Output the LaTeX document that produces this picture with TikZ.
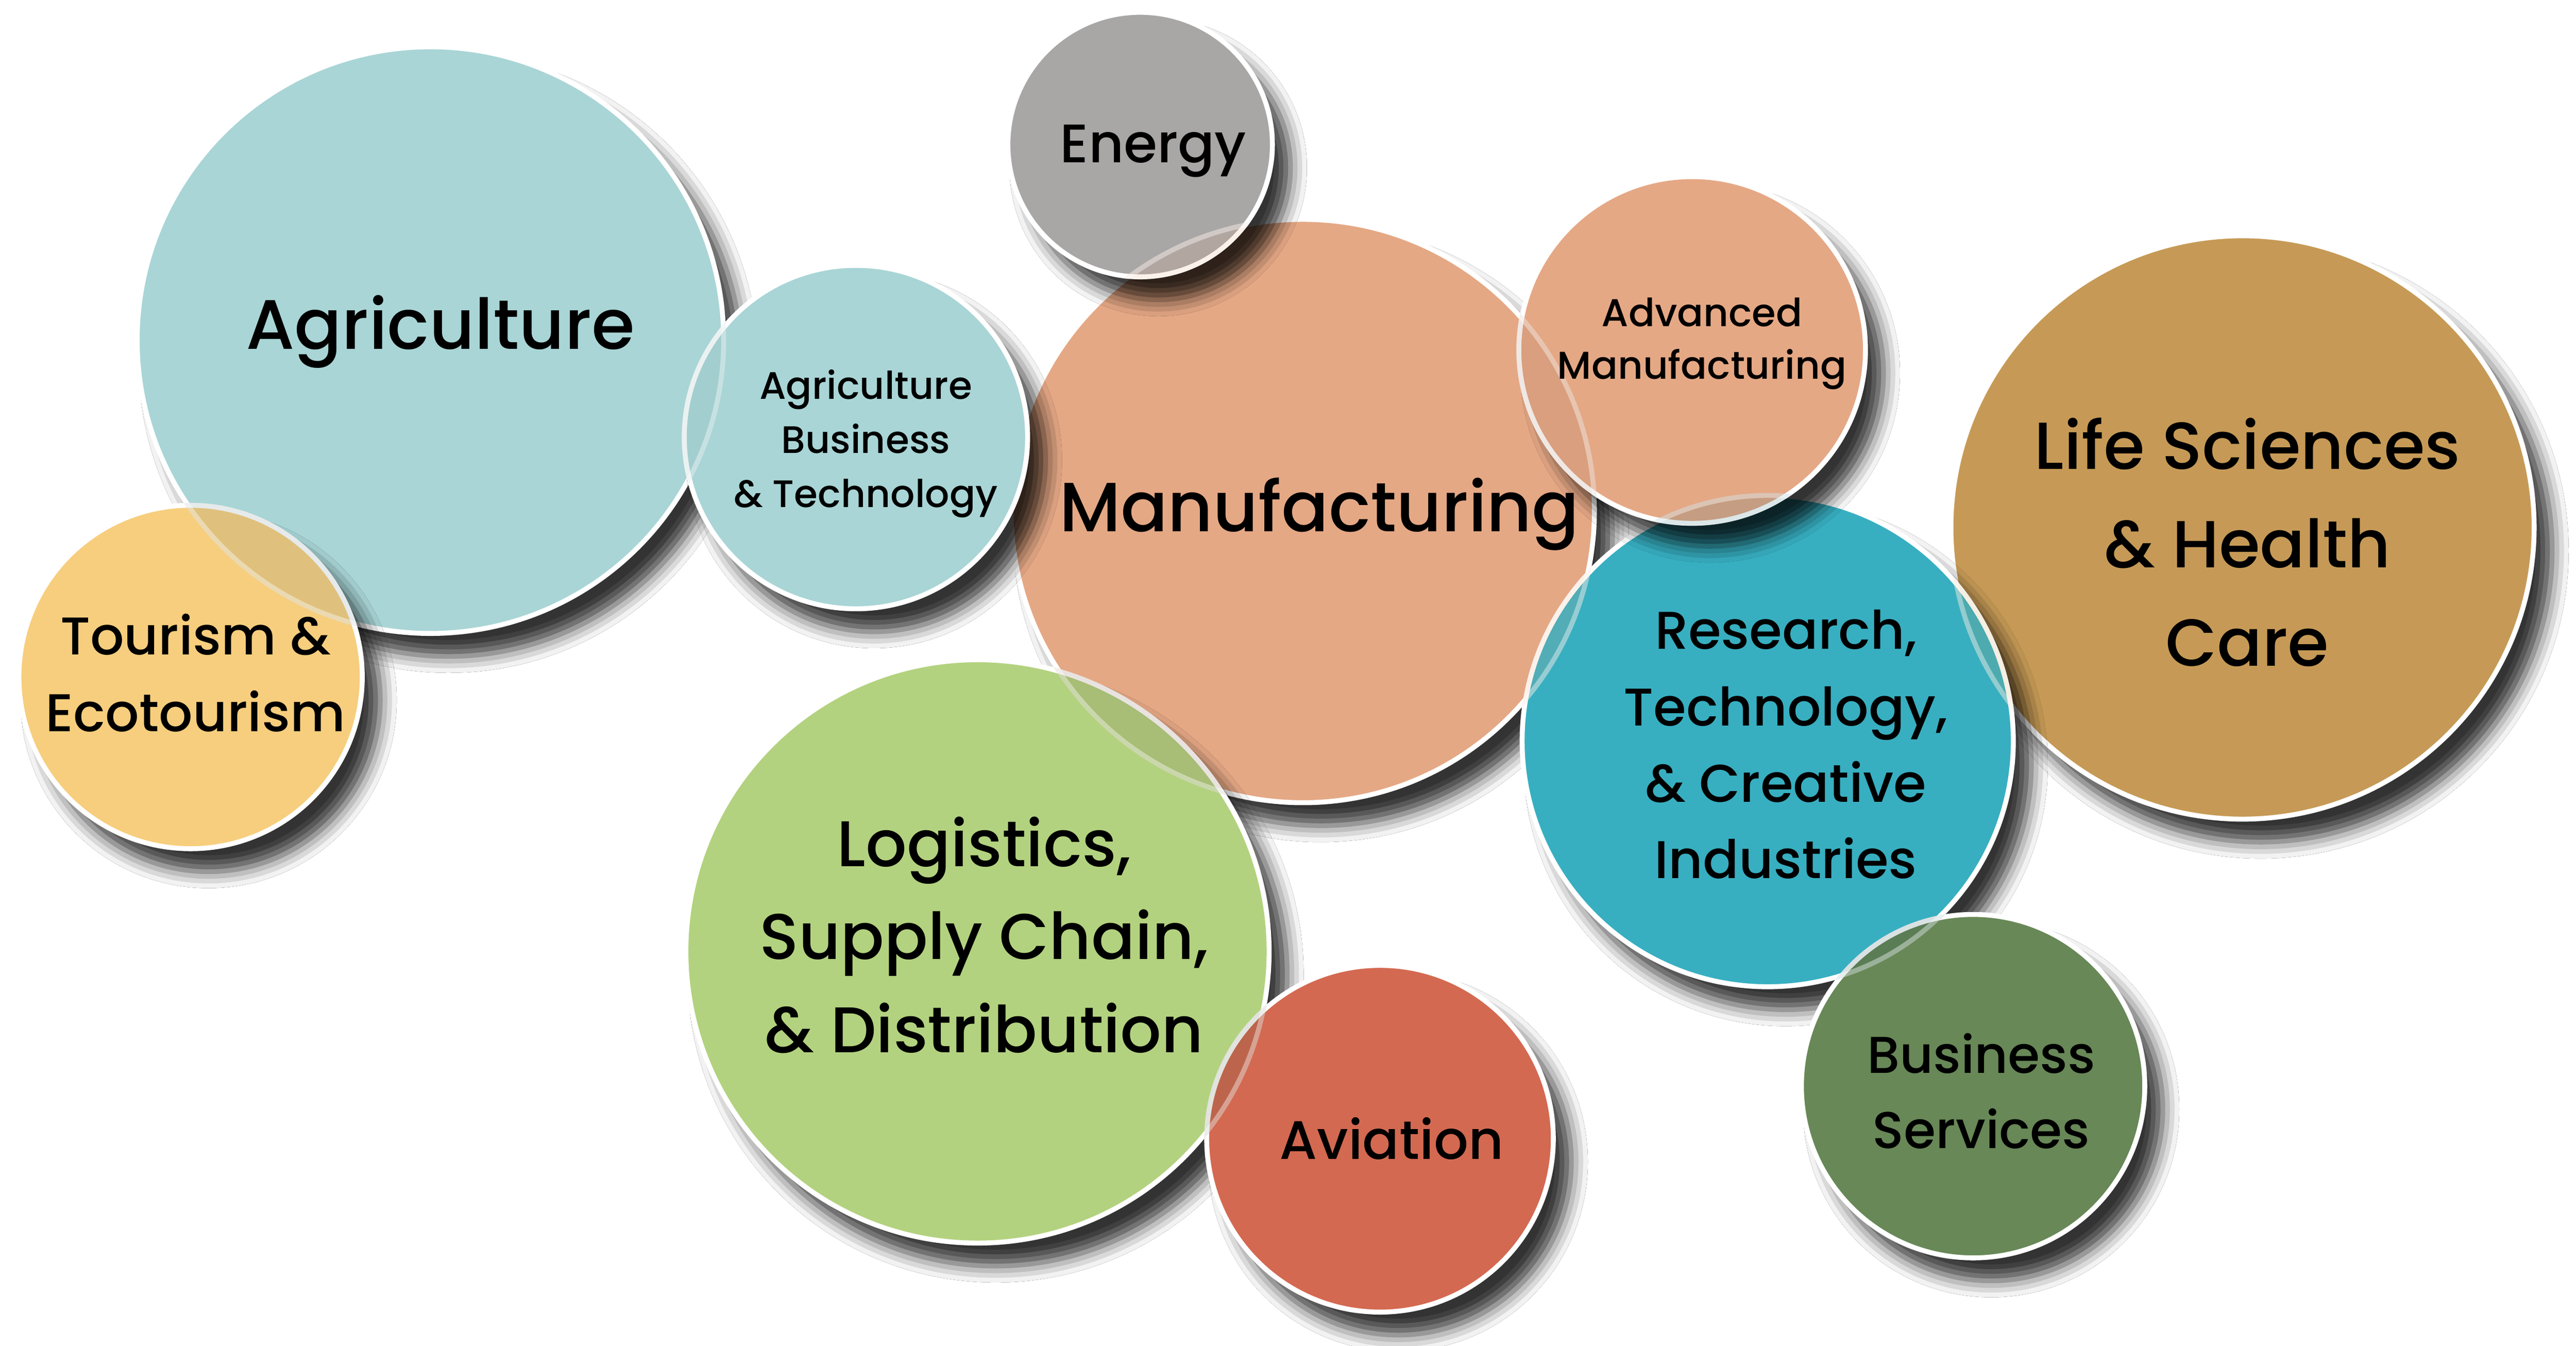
\documentclass[tikz,border=0pt]{standalone}
\usepackage{fontspec}
\IfFontExistsTF{Poppins Medium}{\setmainfont{Poppins Medium}}{\setmainfont{Poppins}}
\usetikzlibrary{shadows.blur}
\definecolor{cAgri}{HTML}{A9D5D6}
\definecolor{cTour}{HTML}{F7CE7D}
\definecolor{cEner}{HTML}{A9A6A6}
\definecolor{cManu}{HTML}{E5A885}
\definecolor{cLife}{HTML}{C69A56}
\definecolor{cRes}{HTML}{37AFC1}
\definecolor{cLogi}{HTML}{B3D27F}
\definecolor{cAvia}{HTML}{D46951}
\definecolor{cBus}{HTML}{688857}
\tikzset{
  bubble/.style={circle, draw=white, line width=3pt, inner sep=0pt,
    blur shadow={shadow xshift=11pt, shadow yshift=-14pt, shadow blur radius=10pt, shadow opacity=80}},
  lbl/.style={align=center, text=black, inner sep=0pt},
  tint/.style={fill opacity=0.16},
  tintedge/.style={draw=white, line width=3pt, draw opacity=0.4}
}
\begin{document}
\begin{tikzpicture}[x=1pt,y=1pt]
\fill[white] (0,0) rectangle (1568,819);
\useasboundingbox (0,0) rectangle (1568,819);

% Agriculture
\node[bubble, fill=cAgri, minimum size=357pt] (agri) at (262,612) {};
% Manufacturing
\node[bubble, fill=cManu, minimum size=355pt] (manu) at (793,508) {};
% Agriculture Business & Technology
\node[bubble, fill=cAgri, minimum size=209pt] (agbt) at (521,553) {};
\begin{scope}
  \clip (agbt.center) circle (106pt);
  \fill[tint, cAgri!80!black] (agri.center) circle (180pt);
  \draw[tintedge] (agri.center) circle (178.5pt);
\end{scope}
% Tourism
\node[bubble, fill=cTour, minimum size=209pt] (tour) at (116,407) {};
\begin{scope}
  \clip (tour.center) circle (106pt);
  \fill[tint, cAgri!60!black] (agri.center) circle (180pt);
  \draw[tintedge] (agri.center) circle (178.5pt);
\end{scope}
% Energy
\node[bubble, fill=cEner, minimum size=161pt] (ener) at (694,731) {};
\begin{scope}
  \clip (ener.center) circle (82pt);
  \fill[tint, cManu] (manu.center) circle (179pt);
  \draw[tintedge] (manu.center) circle (177.5pt);
\end{scope}
% Life Sciences
\node[bubble, fill=cLife, minimum size=355pt] (life) at (1365,498) {};
% Research
\node[bubble, fill=cRes, minimum size=299pt] (res) at (1076,368) {};
\begin{scope}
  \clip (res.center) circle (151pt);
  \fill[tint, cManu] (manu.center) circle (179pt);
  \fill[tint, cLife] (life.center) circle (179pt);
  \draw[tintedge] (manu.center) circle (177.5pt);
  \draw[tintedge] (life.center) circle (177.5pt);
\end{scope}
% Advanced Manufacturing
\node[bubble, fill=cManu, minimum size=211pt] (adv) at (1030,606) {};
\begin{scope}
  \clip (adv.center) circle (107pt);
  \fill[tint, cManu!70!black] (manu.center) circle (179pt);
  \fill[tint, cRes!60!black] (res.center) circle (151pt);
  \draw[tintedge] (manu.center) circle (177.5pt);
  \draw[tintedge] (res.center) circle (149.5pt);
\end{scope}
% Logistics
\node[bubble, fill=cLogi, minimum size=355pt] (logi) at (595,240) {};
\begin{scope}
  \clip (logi.center) circle (179pt);
  \fill[tint, cManu!50!black] (manu.center) circle (179pt);
  \draw[tintedge] (manu.center) circle (177.5pt);
\end{scope}
% Aviation
\node[bubble, fill=cAvia, minimum size=211pt] (avia) at (840,126) {};
\begin{scope}
  \clip (avia.center) circle (107pt);
  \fill[tint, cLogi!40!black] (logi.center) circle (179pt);
  \draw[tintedge] (logi.center) circle (177.5pt);
\end{scope}
% Business Services
\node[bubble, fill=cBus, minimum size=209pt] (bus) at (1201,158) {};
\begin{scope}
  \clip (bus.center) circle (106pt);
  \fill[tint, cRes!40!black] (res.center) circle (151pt);
  \draw[tintedge] (res.center) circle (149.5pt);
\end{scope}

% Labels
\node[lbl, font=\fontsize{42.6}{50}\selectfont] (agri-t) at (268,617) {Agriculture};
\node[lbl, font=\fontsize{23.3}{33}\selectfont] (agbt-t) at (527,549) {Agriculture\\Business\\\& Technology};
\node[lbl, font=\fontsize{33}{40}\selectfont] (ener-t) at (702,727) {Energy};
\node[lbl, font=\fontsize{42.4}{50}\selectfont] (manu-t) at (803,506) {Manufacturing};
\node[lbl, font=\fontsize{23.6}{32}\selectfont] (adv-t) at (1036,610) {Advanced\\Manufacturing};
\node[lbl, font=\fontsize{40.5}{60}\selectfont] (life-t) at (1368,489) {Life Sciences\\\& Health\\Care};
\node[lbl, font=\fontsize{32.3}{46.5}\selectfont] (res-t) at (1087,366) {Research,\\Technology,\\\& Creative\\Industries};
\node[lbl, font=\fontsize{39.3}{56.5}\selectfont] (logi-t) at (599,250) {Logistics,\\Supply Chain,\\\& Distribution};
\node[lbl, font=\fontsize{33}{40}\selectfont] (avia-t) at (847,126) {Aviation};
\node[lbl, font=\fontsize{31.5}{46}\selectfont] (bus-t) at (1206,155) {Business\\Services};
\node[lbl, font=\fontsize{32.3}{47}\selectfont] (tour-t) at (119,409.5) {Tourism \&\\Ecotourism};
\end{tikzpicture}
\end{document}
